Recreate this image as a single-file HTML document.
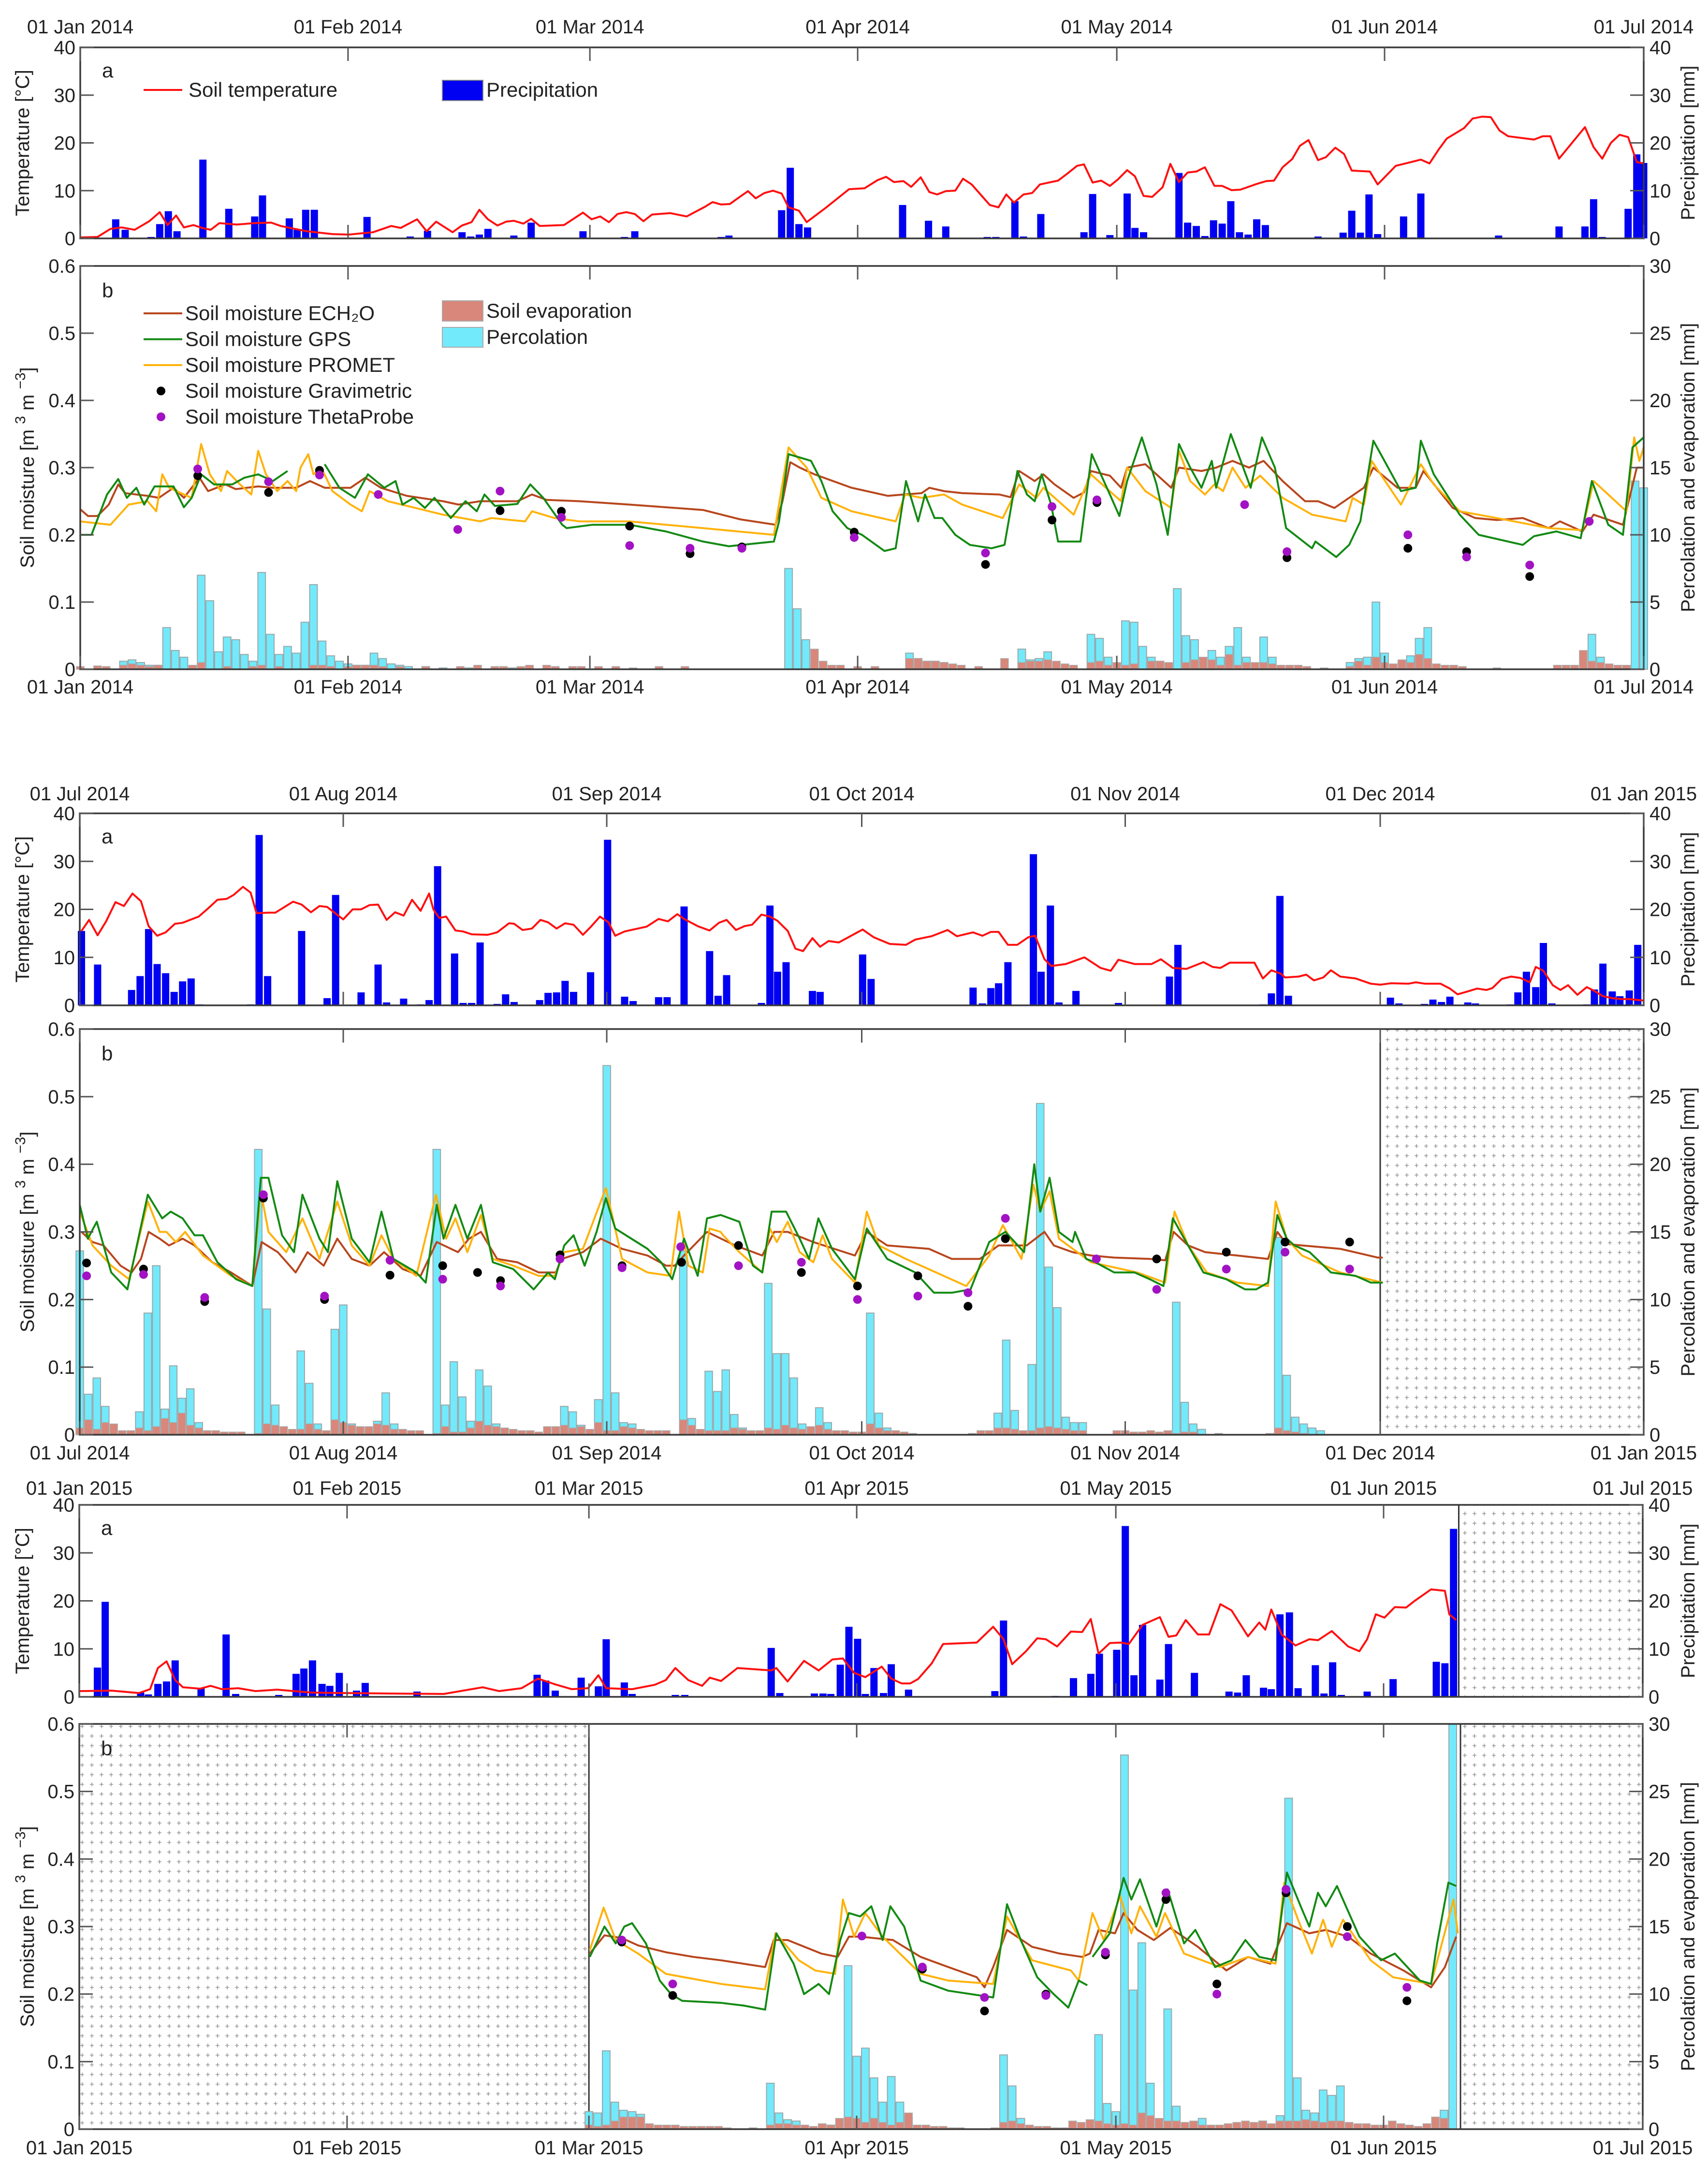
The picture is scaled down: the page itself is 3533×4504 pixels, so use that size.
<!DOCTYPE html>
<html><head><meta charset="utf-8"><title>Soil moisture, temperature and precipitation 2014–2015</title>
<style>
html,body{margin:0;padding:0;background:#fff;}
svg{display:block;font-family:"Liberation Sans",Arial,sans-serif;}
</style></head>
<body>
<svg id="chart" xmlns="http://www.w3.org/2000/svg" width="3533" height="4504" viewBox="0 0 3533 4504">
<defs>
<pattern id="hatch" width="20" height="20" patternUnits="userSpaceOnUse">
<path d="M6 10h8M10 6v8" stroke="#9a9a9a" stroke-width="1.6"/>
</pattern>
</defs>
<g id="root"></g>
</svg>
<script>
// ===== Panel 1: Jan–Jun 2014 =====
const p1Labels = ["01 Jan 2014","01 Feb 2014","01 Mar 2014","01 Apr 2014","01 May 2014","01 Jun 2014","01 Jul 2014"];
const p1Months = [0,31,59,90,120,151,181];
const p1Precip = [[4.1,4],[5.2,1.8],[8.2,0.3],[9.2,3],[10.2,5.7],[11.2,1.5],[14.2,16.5],[17.2,6.2],[20.2,4.6],[21.1,9],[24.2,4.2],[25.1,1.8],[26.1,6],[27.1,6],[33.2,4.5],[38.2,0.4],[40.2,1.6],[44.2,1.3],[45.2,0.4],[46.2,0.8],[47.2,2],[50.2,0.6],[52.2,3.3],[58.2,1.5],[63,0.3],[64.2,1.5],[74.2,0.3],[75.1,0.6],[81.2,5.9],[82.2,14.8],[83.2,3],[84.2,2.3],[95.2,7],[98.2,3.7],[100.2,2.5],[105,0.3],[106,0.3],[108.2,7.8],[109.2,0.4],[111.2,5.1],[116.2,1.3],[117.2,9.3],[119.2,0.7],[121.2,9.4],[122.1,2.2],[123.1,1.3],[127.2,13.7],[128.2,3.3],[129.2,2.6],[130.2,0.5],[131.2,3.8],[132.2,3.1],[133.2,7.8],[134.2,1.3],[135.2,0.8],[136.2,4],[137.2,2.8],[143.3,0.4],[146.2,1.2],[147.2,5.8],[148.2,1.2],[149.2,9.2],[150.2,0.9],[153.2,4.6],[154.2,0.2],[155.2,9.4],[164.2,0.6],[171.2,2.5],[174.2,2.5],[175.2,8.2],[176.2,0.3],[179.2,6.2],[180.2,17.6],[181,15.8]];
const p1Temp = [[0,0.2],[2,0.3],[3.5,2],[4.8,2.3],[6.3,1.8],[8,3.6],[9.2,5.5],[10.1,2.8],[11.1,4.8],[12,2.3],[13.1,2.8],[14.1,2.2],[15.1,1.8],[16.1,3.2],[18.1,2.9],[20.2,3.2],[22.1,3.3],[23.2,2.6],[26.2,1.5],[29.2,0.9],[31.1,0.8],[33.9,1.3],[36,2.6],[37.1,2.2],[39,4],[40.1,1.5],[41.2,3.5],[43.1,1.3],[44.2,2.7],[45.3,3.4],[46.2,6],[47.2,4],[48.3,2.7],[49.3,3.5],[50.2,3.7],[51.3,3.1],[52.2,4.1],[53.2,2.6],[56,2.8],[58.2,5.4],[59.2,4],[60.2,4.6],[61.2,3.4],[62.2,5.1],[63.2,5.5],[64.2,5.1],[65.2,3.6],[66.2,5],[68.3,5.3],[70.2,4.6],[72.3,6.6],[73.2,7.6],[74.2,7.1],[75.2,7.2],[76.2,8.5],[77.3,9.9],[78.2,8.4],[79.2,9.5],[80.2,10],[81.2,9.4],[82,6.5],[83.2,5.8],[84.1,3.4],[86.3,6.4],[89,10.3],[90.8,10.5],[92.3,12.2],[93.3,12.9],[94.2,11.8],[95.3,12],[96.2,10.8],[97.3,12.8],[98.3,9.7],[99.2,9.2],[100.2,9.9],[101.3,10],[102.2,12.5],[103.2,11.3],[105.3,7],[106.3,6.5],[107.2,9.2],[108.1,7.5],[109.2,9.2],[110.2,9.5],[111.1,11.3],[113.2,12.1],[114.3,13.6],[115.4,15.2],[116.2,15.5],[117.2,11.7],[118.2,12.1],[119.2,11],[120.1,12.3],[121.2,14.3],[122.1,13],[123.1,8.9],[124.1,8.7],[125.3,10.7],[126.2,15.6],[127.2,11.8],[128.2,13.8],[129.2,14],[130.2,14.9],[131.3,11],[132.2,11],[133.3,10.1],[134.3,10.2],[136.2,11.4],[137.3,12],[138.2,12.1],[139.2,14.9],[140.3,16.6],[141.2,19.4],[142.2,20.6],[143.3,16.4],[144.2,17],[145.3,19],[146.3,17.7],[147.2,14.2],[149.3,14],[150.2,11.3],[152.3,15.2],[155.2,16.5],[156.2,15.7],[157.3,18.7],[158.2,20.9],[160.2,23.1],[161.2,25.1],[162.3,25.5],[163.3,25.4],[164.3,22.6],[165.3,21.4],[168.3,20.7],[169.3,21.4],[170.2,21.4],[171.2,16.7],[174.2,23.3],[175.2,19.1],[176.2,16.7],[177.2,20],[178.2,21.7],[179.2,21.2],[180.2,16],[181,15.7]];
const p1Ech2o = [[0,0.238],[0.9,0.228],[2,0.228],[3.3,0.245],[4.4,0.275],[5.2,0.262],[7.8,0.258],[9.1,0.255],[10.8,0.27],[12,0.255],[13.8,0.285],[14.8,0.265],[16.8,0.275],[18,0.268],[20.6,0.272],[22.3,0.27],[25,0.27],[26.6,0.28],[28.3,0.27],[31.3,0.27],[33,0.285],[34.8,0.27],[37.8,0.258],[42,0.25],[43.8,0.245],[46.3,0.25],[50.6,0.25],[52.3,0.26],[54,0.252],[57.8,0.25],[63.6,0.245],[72.1,0.237],[76.4,0.223],[80.5,0.215],[81.3,0.25],[82.2,0.308],[83.3,0.3],[85,0.29],[89.3,0.27],[93.5,0.258],[95.3,0.26],[97.4,0.262],[98.3,0.27],[100,0.265],[102.1,0.262],[106.4,0.26],[107.7,0.256],[108.7,0.295],[110.5,0.28],[111.5,0.29],[112.8,0.275],[115,0.255],[116.2,0.263],[117,0.295],[119.2,0.288],[120.5,0.27],[121.2,0.3],[123.3,0.305],[126.3,0.27],[127.2,0.3],[129.8,0.295],[131.5,0.3],[133.4,0.31],[135.3,0.3],[137,0.31],[139.2,0.28],[141.8,0.25],[143.3,0.25],[145.2,0.24],[146.9,0.255],[148.6,0.27],[149.7,0.3],[152.5,0.27],[154.6,0.27],[155.5,0.295],[158.9,0.24],[161.5,0.225],[164,0.222],[167,0.225],[170,0.21],[171.3,0.22],[173.9,0.205],[175.2,0.23],[178.6,0.215],[180.2,0.3],[181,0.3]];
const p1Gps = [[0,0.2],[1.3,0.2],[3.1,0.26],[4.4,0.283],[5.4,0.255],[6.5,0.27],[7.4,0.245],[8.6,0.272],[10.8,0.272],[12,0.241],[12.9,0.255],[14,0.29],[15.5,0.275],[17.6,0.275],[19,0.285],[20.6,0.29],[22.3,0.28],[24,0.295],[24.1,null],[28.3,0.305],[30,0.27],[31.8,0.255],[33.3,0.29],[35.2,0.27],[36.5,0.28],[37.3,0.245],[38.6,0.255],[39.9,0.24],[41,0.255],[42.9,0.225],[44.6,0.25],[45.9,0.235],[46.8,0.26],[48,0.243],[50.6,0.246],[52.1,0.275],[53.6,0.255],[55.8,0.215],[56.3,0.21],[59.3,0.215],[63.6,0.215],[67.8,0.205],[72.1,0.19],[75.1,0.183],[80.3,0.19],[80.9,0.22],[82,0.32],[83.3,0.315],[84.6,0.31],[85.8,0.28],[87.1,0.235],[88.8,0.21],[90.5,0.2],[93.1,0.176],[94.4,0.18],[95.6,0.28],[97,0.22],[97.8,0.26],[98.9,0.225],[99.8,0.225],[101.3,0.2],[103,0.185],[105.5,0.18],[107,0.185],[108.5,0.295],[109.6,0.26],[110.5,0.25],[111.3,0.29],[112.4,0.245],[113.2,0.19],[115.8,0.19],[117.1,0.32],[119.2,0.26],[120.3,0.228],[121.2,0.28],[122.9,0.345],[124.6,0.275],[125.9,0.2],[127.2,0.335],[128.5,0.3],[129.8,0.27],[131,0.31],[131.5,0.27],[133.2,0.35],[135.5,0.27],[136.8,0.345],[138.3,0.3],[139.6,0.21],[142.6,0.18],[143,0.19],[145.4,0.167],[146.9,0.185],[148.2,0.22],[149.7,0.34],[151.2,0.305],[152.9,0.265],[154.6,0.27],[155.2,0.34],[156.7,0.29],[159.7,0.23],[161.9,0.2],[167,0.185],[168.3,0.198],[170.9,0.205],[173.7,0.195],[175,0.28],[176.9,0.215],[178.6,0.2],[179.7,0.33],[181,0.345]];
const p1Promet = [[0,0.22],[3.5,0.215],[5.6,0.245],[7.8,0.25],[8.8,0.235],[9.5,0.29],[10.3,0.27],[12,0.26],[12.9,0.255],[14,0.335],[15,0.29],[16.3,0.265],[17,0.295],[18.5,0.275],[19.8,0.26],[20.6,0.325],[21.5,0.29],[22.8,0.265],[24,0.28],[25,0.265],[25.5,0.3],[26.4,0.32],[27,0.29],[27.9,0.3],[29.2,0.265],[31.3,0.245],[32.6,0.235],[33.5,0.265],[35.6,0.25],[42,0.23],[44.2,0.225],[46.3,0.22],[47.6,0.225],[51.5,0.22],[52.3,0.235],[54.9,0.225],[57.8,0.22],[63.6,0.22],[72.1,0.21],[80.3,0.2],[82,0.33],[84.1,0.3],[85.8,0.255],[89.3,0.235],[94.4,0.22],[95.5,0.26],[97.4,0.255],[100,0.26],[102.1,0.245],[106.8,0.225],[108.7,0.275],[110.7,0.255],[111.5,0.27],[115,0.23],[117,0.29],[120.5,0.25],[121.2,0.3],[123.3,0.265],[126.3,0.24],[127.2,0.325],[128.5,0.28],[130.2,0.26],[131.3,0.275],[132.3,0.265],[133.4,0.3],[134.9,0.27],[136.6,0.288],[139.2,0.255],[142.6,0.23],[146.5,0.22],[147.3,0.255],[148.6,0.245],[149.5,0.31],[152.9,0.245],[155.2,0.305],[156.7,0.275],[159.7,0.235],[164,0.225],[170,0.21],[173.9,0.207],[175.2,0.28],[179,0.235],[179.9,0.345],[180.5,0.31],[181,0.33]];
const p1Grav = [[13.6,0.288],[21.8,0.263],[27.7,0.296],[48.6,0.236],[55.7,0.235],[63.6,0.213],[70.6,0.172],[76.6,0.182],[89.6,0.204],[104.8,0.156],[112.5,0.222],[117.7,0.248],[139.7,0.166],[153.7,0.18],[160.5,0.175],[167.8,0.138]];
const p1Theta = [[13.6,0.298],[21.8,0.279],[27.7,0.289],[34.5,0.26],[43.7,0.208],[48.6,0.265],[55.7,0.226],[63.6,0.184],[70.6,0.18],[76.6,0.18],[89.6,0.196],[104.8,0.173],[112.5,0.242],[117.7,0.252],[134.8,0.245],[139.7,0.175],[153.7,0.2],[160.5,0.167],[167.8,0.155],[174.7,0.22]];
const p1Perc = [[5,0.6],[6,0.7],[7,0.5],[8,0.3],[9,0.3],[10,3.1],[11,1.4],[12,0.9],[14,7],[15,5.1],[16,1.3],[17,2.4],[18,2.2],[19,1.1],[20,0.6],[21,7.2],[22,2.6],[23,1.1],[24,1.7],[25,1.2],[26,3.5],[27,6.3],[28,2.1],[29,1],[30,0.6],[31,0.4],[32,0.3],[33,0.3],[34,1.2],[35,0.8],[36,0.4],[37,0.3],[38,0.2],[40,0.2],[42,0.1],[45,0.1],[50,0.1],[52,0.2],[55,0.1],[82,7.5],[83,4.5],[84,2.2],[96,1.2],[97,0.8],[98,0.6],[99,0.6],[100,0.5],[109,1.5],[110,0.7],[111,0.8],[112,1.3],[117,2.6],[118,2.3],[119,0.9],[121,3.6],[122,3.5],[123,1.7],[124,0.9],[125,0.6],[127,6],[128,2.5],[129,2.2],[131,1.4],[132,0.9],[133,1.7],[134,3.1],[135,0.9],[137,2.4],[138,0.9],[147,0.5],[148,0.8],[149,0.9],[150,5],[151,1.2],[153,0.6],[154,1],[155,2.3],[156,3.1],[175,2.6],[176,0.9],[180,14],[181,13.5]];
const p1Evap = [[0,0.2],[2,0.25],[3,0.2],[5,0.3],[6,0.4],[7,0.3],[8,0.2],[9,0.3],[13,0.3],[14,0.5],[17,0.2],[20,0.2],[21,0.3],[23,0.2],[27,0.3],[28,0.3],[29,0.2],[31,0.2],[32,0.3],[33,0.3],[34,0.3],[35,0.2],[37,0.2],[40,0.2],[44,0.2],[46,0.3],[48,0.2],[49,0.2],[51,0.2],[52,0.3],[54,0.3],[55,0.2],[57,0.2],[58,0.2],[60,0.2],[62,0.2],[64,0.1],[67,0.2],[70,0.2],[85,1.5],[86,0.6],[87,0.3],[88,0.3],[90,0.2],[92,0.2],[96,0.8],[97,0.8],[98,0.6],[99,0.6],[100,0.5],[101,0.4],[102,0.3],[104,0.2],[107,0.8],[109,0.5],[110,0.6],[111,0.6],[112,0.7],[113,0.6],[114,0.4],[115,0.3],[117,0.5],[118,0.6],[119,0.3],[120,0.5],[121,0.3],[122,0.4],[124,0.6],[125,0.6],[126,0.5],[128,0.5],[129,0.7],[130,0.9],[131,0.7],[132,0.3],[133,1.1],[134,0.3],[135,0.5],[136,0.5],[137,0.5],[138,0.4],[139,0.3],[140,0.3],[141,0.3],[142,0.2],[144,0.1],[147,0.2],[148,0.6],[149,0.3],[150,0.9],[151,0.5],[152,0.4],[153,0.7],[154,0.5],[155,1.1],[156,0.8],[157,0.4],[158,0.3],[159,0.3],[160,0.2],[164,0.1],[171,0.3],[172,0.3],[173,0.3],[174,1.4],[175,0.6],[176,0.5],[177,0.4],[178,0.3],[179,0.3]];

// ===== Panel 2: Jul–Dec 2014 =====
const p2Labels = ["01 Jul 2014","01 Aug 2014","01 Sep 2014","01 Oct 2014","01 Nov 2014","01 Dec 2014","01 Jan 2015"];
const p2Months = [0,31,62,92,123,153,184];
const p2Precip = [[0.2,15.5],[2.1,8.5],[6.1,3.2],[7.1,6.1],[8.1,15.9],[9.1,8.6],[10.1,6.7],[11.1,2.8],[12.1,5],[13.1,5.6],[14.1,0.2],[20.1,0.2],[21.1,35.5],[22.1,6.1],[26.1,15.5],[29.1,1.5],[30.1,23],[33.1,2.7],[35.1,8.5],[36.1,0.6],[38.1,1.4],[40.1,0.2],[41.1,1.1],[42.1,29],[44.1,10.8],[45.1,0.5],[46.1,0.5],[47.1,13.1],[49.1,0.3],[50.1,2.3],[51.1,0.7],[54.1,1.1],[55.1,2.6],[56.1,2.7],[57.1,5.1],[58.1,2.8],[60.1,6.9],[62.1,34.5],[64.1,1.8],[65.1,0.9],[68.1,1.7],[69.1,1.7],[71.1,20.6],[74.1,11.3],[75.1,2],[76.1,6.3],[80.2,0.5],[81.2,20.8],[82.1,7],[83.1,9],[86.2,3],[87.1,2.8],[92.1,10.6],[93.1,5.5],[105.1,3.7],[106.2,0.4],[107.2,3.6],[108.1,4.6],[109.2,9],[112.2,31.5],[113.1,7],[114.2,20.8],[115.2,0.6],[117.2,3],[122.2,0.5],[128.2,6],[129.2,12.6],[139.2,0.2],[140.2,2.5],[141.2,22.8],[142.2,2],[154.2,1.6],[155.2,0.4],[158.2,0.3],[159.2,1.2],[160.2,0.7],[161.2,1.8],[163.3,0.6],[164.2,0.4],[168.3,0.2],[169.2,2.7],[170.2,7],[171.3,3.8],[172.2,13],[173.2,0.4],[177.3,0.2],[178.2,3.3],[179.2,8.7],[180.3,2.9],[181.2,1.9],[182.3,3.1],[183.3,12.6]];
const p2Temp = [[0.2,15.5],[1.1,17.8],[2.1,14.6],[3.1,17.5],[4.2,21.5],[5.2,20.7],[6.2,23.3],[7.2,21.7],[8.1,16.5],[9.1,14.5],[10.1,15.2],[11.2,17],[12.1,17.2],[14,18.5],[15.1,20.2],[16.2,22],[17.3,22.2],[18.1,23],[19.2,24.7],[20.1,23.5],[20.8,19.2],[22.2,19.3],[23,19.3],[25.1,21.6],[26.1,21],[27.2,19.4],[28.2,20.7],[29.1,20.5],[31,17.9],[32.1,20],[33.1,20],[34.1,20.9],[35.1,21],[36.1,17.8],[37.1,19.4],[38.1,18.7],[39.1,22],[40.1,19.7],[41.1,23.3],[41.6,20],[42.3,18.2],[43.1,18.5],[44.2,15.6],[45.1,15.4],[46.1,14.8],[48,14.7],[49.1,15.2],[50.5,17.1],[51.1,17],[52.1,15.7],[53.2,16],[54.2,17.8],[55.1,17.3],[56.1,16],[57.1,17.1],[58.1,16.8],[59.2,14.7],[60.1,16.3],[61.2,18.5],[62.2,17.3],[63,14.5],[64.1,15.4],[66.7,16.4],[68.1,18],[69.2,17.5],[70.3,19],[71.1,18],[72.7,16.5],[74.1,15.6],[75.2,17.2],[76.1,17.8],[77.2,15.7],[78.2,16.5],[79.1,16.8],[80.2,18.9],[81.2,18.5],[82.1,17.6],[83.3,15.5],[84.2,11.8],[85.1,11.3],[86.2,14],[87.1,12.2],[88.1,13.4],[89.3,13.1],[92.1,15.8],[93.4,14.2],[95.3,12.8],[97.2,12.6],[98.3,13.7],[100.2,14.4],[102.1,15.7],[103.2,14.4],[105.1,15.2],[106.2,14.5],[107.2,15.3],[108.1,15.3],[109.2,12.6],[110.3,12.6],[111.6,14.2],[112.4,14.5],[113.5,9.6],[114.3,8.2],[116,8.6],[118.2,10],[120.1,7.8],[121.3,7.2],[122.2,9.5],[124.1,8.6],[126.1,8.6],[127.2,9.6],[128.6,7.8],[130.2,7.6],[132.2,9],[133.3,8],[134.2,7.8],[135.3,8.9],[138.2,8.9],[139.2,5.6],[140.2,7.3],[141.3,6.6],[141.8,5.8],[143.4,6],[144.3,6.4],[145.2,5.2],[146.3,5.8],[147.2,7.3],[148.3,6],[150.1,5.6],[151.9,4.5],[153,4.3],[154.3,4.6],[156.3,4.5],[157.2,4.8],[158.3,4.5],[160.1,4.5],[161.2,3.5],[162.1,2.3],[163.3,2.9],[164.4,3.5],[165.5,3.2],[166.2,3.6],[167.3,5.5],[168.4,6],[169.5,5.7],[170.6,4.8],[171.3,8],[172.2,7.2],[173.3,4.2],[174.2,3.2],[175.1,4.2],[176.2,2.2],[177.3,3.8],[178.2,3],[179.2,1.9],[180.3,1.5],[181.4,1.3],[182.3,1.3],[184,1]];
const p2Ech2o = [[0.2,0.3],[1.5,0.285],[2.8,0.28],[4.8,0.25],[6.1,0.24],[7.2,0.26],[8.1,0.3],[9.4,0.29],[10.5,0.28],[12.1,0.29],[13.5,0.28],[15.6,0.255],[17.8,0.24],[20.3,0.22],[21.4,0.285],[23.3,0.27],[25.4,0.24],[26.8,0.27],[28.7,0.25],[30.3,0.29],[32,0.26],[34.1,0.25],[35.8,0.27],[38,0.245],[40.1,0.235],[42,0.285],[44.5,0.27],[45.8,0.29],[47.2,0.3],[49.1,0.26],[51.5,0.255],[54,0.24],[56,0.24],[56.7,0.26],[59.2,0.27],[61.3,0.29],[63.8,0.275],[66.8,0.265],[69,0.25],[70,0.25],[71.1,0.265],[73.8,0.3],[77.1,0.28],[80.3,0.265],[81.7,0.3],[83.3,0.3],[86.3,0.285],[91.2,0.265],[92.6,0.3],[95,0.28],[99.9,0.275],[102.6,0.26],[105.9,0.26],[108.1,0.28],[111.4,0.28],[113.5,0.3],[114.6,0.28],[116.8,0.27],[119,0.265],[121.7,0.262],[125.9,0.26],[127.7,0.258],[128.7,0.3],[130.4,0.28],[132.4,0.27],[136.2,0.265],[139.8,0.26],[140.9,0.3],[142,0.282],[143.8,0.28],[148.3,0.275],[152.7,0.262],[153.3,0.262]];
const p2Gps = [[0,0.34],[0.95,0.29],[2,0.315],[3.7,0.24],[5.6,0.215],[8,0.355],[9.7,0.32],[10.7,0.33],[12.1,0.32],[13.5,0.295],[14.5,0.295],[16.2,0.255],[18.4,0.23],[20.3,0.22],[21.3,0.38],[22.2,0.38],[23.8,0.295],[25.2,0.27],[26.2,0.355],[28.2,0.29],[29.2,0.27],[30.3,0.375],[32,0.29],[34.1,0.255],[35.5,0.33],[36.9,0.26],[39.6,0.24],[40.7,0.225],[42,0.34],[42.8,0.29],[44.2,0.34],[45.6,0.29],[47.2,0.34],[48.6,0.255],[51,0.245],[53.4,0.215],[55.1,0.24],[55.9,0.23],[57,0.28],[58.1,0.295],[59.4,0.25],[60.8,0.3],[61.9,0.35],[63,0.305],[64.9,0.29],[66.8,0.275],[68.4,0.255],[69.7,0.23],[71.1,0.29],[72.7,0.235],[73.8,0.32],[75.4,0.325],[77.6,0.315],[79.2,0.25],[80.3,0.24],[81.4,0.33],[83.1,0.33],[84.7,0.29],[85.8,0.26],[86.9,0.32],[88.5,0.275],[91.2,0.23],[92.6,0.305],[95,0.26],[98.3,0.24],[100.5,0.21],[102.6,0.21],[104.8,0.215],[107,0.285],[108.9,0.3],[111.1,0.27],[112.3,0.4],[113,0.33],[114.1,0.38],[115.2,0.3],[116.8,0.285],[117.1,0.3],[118.4,0.26],[119.5,0.255],[121.7,0.24],[124.1,0.24],[125.9,0.23],[127.5,0.22],[128.6,0.32],[130.4,0.28],[132.2,0.24],[134.9,0.23],[137.1,0.215],[138.4,0.215],[139.8,0.225],[140.9,0.325],[142,0.29],[142.9,0.28],[144.7,0.27],[147.2,0.24],[150.1,0.235],[151.9,0.225],[153.3,0.225]];
const p2Promet = [[0,0.33],[1.5,0.28],[3.7,0.25],[5.8,0.23],[8,0.345],[9.4,0.3],[10.2,0.3],[11.3,0.285],[12.4,0.3],[14.5,0.265],[17.8,0.235],[20.3,0.22],[21.3,0.36],[22.2,0.3],[24.3,0.27],[26.2,0.32],[28.2,0.26],[30.3,0.345],[32,0.28],[34.1,0.25],[35.5,0.295],[36.9,0.26],[39.6,0.235],[41.9,0.355],[43.1,0.29],[44.2,0.32],[45.6,0.27],[47.2,0.325],[48.6,0.26],[51,0.25],[54,0.235],[55.9,0.235],[57,0.27],[59.2,0.275],[61.9,0.365],[63.8,0.26],[66.8,0.24],[69.5,0.235],[70.5,0.33],[71.6,0.25],[73.3,0.24],[74.1,0.305],[75.4,0.3],[75.7,0.295],[77.6,0.27],[80.3,0.24],[81.2,0.305],[82,0.285],[83.3,0.315],[84.7,0.27],[86.3,0.255],[87.4,0.295],[88.5,0.26],[91.2,0.225],[92.6,0.33],[94,0.28],[97.2,0.26],[104.3,0.22],[107,0.265],[108.6,0.31],[110.8,0.26],[112.2,0.37],[113,0.33],[114.1,0.36],[115.2,0.29],[119,0.255],[124.4,0.24],[127.7,0.225],[128.8,0.33],[130.4,0.28],[132.6,0.24],[136.2,0.225],[139.8,0.22],[140.7,0.345],[142,0.29],[143.8,0.265],[148.3,0.24],[153.3,0.225]];
const p2Grav = [[0.8,0.254],[7.5,0.245],[14.7,0.197],[21.6,0.35],[28.8,0.2],[36.5,0.236],[42.7,0.25],[46.8,0.24],[49.5,0.228],[56.5,0.266],[63.8,0.25],[70.8,0.255],[77.5,0.28],[84.9,0.24],[91.5,0.22],[98.6,0.235],[104.5,0.19],[108.9,0.29],[126.7,0.26],[134.9,0.27],[141.8,0.285],[149.4,0.285]];
const p2Theta = [[0.8,0.235],[7.5,0.237],[14.7,0.203],[21.6,0.355],[28.8,0.205],[36.5,0.258],[42.7,0.23],[49.5,0.22],[56.5,0.26],[63.8,0.247],[70.7,0.278],[77.5,0.25],[84.9,0.255],[91.5,0.2],[98.6,0.205],[104.5,0.21],[108.9,0.32],[119.6,0.26],[126.7,0.215],[134.9,0.245],[141.8,0.27],[149.4,0.245]];
const p2Perc = [[0,13.6],[1,3],[2,4.2],[3,2.1],[7,1.7],[8,9],[9,12.5],[10,1.9],[11,5.1],[12,2.7],[13,3.4],[14,0.9],[21,21.1],[22,9.3],[23,2.2],[26,6.2],[27,3.8],[28,0.8],[30,7.8],[31,9.6],[32,0.8],[34,0.3],[35,1],[36,3.1],[37,0.8],[42,21.1],[43,2.2],[44,5.4],[45,2.8],[46,1],[47,4.8],[48,3.6],[49,0.8],[57,2.1],[58,1.7],[59,0.7],[61,2.6],[62,27.3],[63,3.1],[64,0.9],[65,0.8],[71,13.6],[72,1.2],[74,4.7],[75,3.2],[76,4.8],[77,1.5],[78,0.5],[81,11.2],[82,6],[83,6],[84,4.2],[85,0.8],[87,2],[88,0.9],[93,9],[94,1.6],[95,0.5],[108,1.6],[109,7],[110,1.8],[112,5.2],[113,24.5],[114,12.4],[115,9.4],[116,1.3],[117,0.9],[118,0.9],[129,9.8],[130,2.4],[131,0.8],[132,0.4],[141,14.6],[142,4.4],[143,1.3],[144,0.8],[145,0.5],[146,0.3]];
const p2Evap = [[0,0.5],[1,1.1],[2,0.4],[3,0.9],[4,0.8],[5,0.3],[6,0.3],[7,0.5],[8,0.3],[9,0.6],[10,1.2],[11,0.9],[12,1.6],[13,0.7],[14,0.5],[15,0.3],[16,0.3],[17,0.2],[18,0.2],[19,0.2],[21,0.1],[22,0.8],[23,0.7],[24,0.6],[25,0.4],[26,0.4],[27,0.8],[28,0.4],[29,0.3],[30,1.1],[31,0.9],[32,0.7],[33,0.6],[34,0.6],[35,0.8],[36,0.7],[37,0.4],[38,0.4],[39,0.3],[40,0.3],[42,0.1],[43,0.6],[44,0.2],[45,0.2],[46,0.5],[47,1],[48,0.7],[49,0.6],[50,0.5],[51,0.4],[52,0.3],[53,0.3],[54,0.2],[55,0.6],[56,0.6],[57,0.7],[58,0.5],[59,0.6],[60,0.4],[61,0.9],[62,0.3],[63,0.3],[64,0.6],[65,0.5],[66,0.4],[67,0.3],[68,0.3],[69,0.3],[71,1.1],[72,0.7],[73,0.4],[74,0.3],[75,0.3],[76,0.3],[77,0.5],[78,0.4],[79,0.3],[80,0.3],[81,0.5],[82,0.4],[83,0.7],[84,0.5],[85,0.4],[86,0.6],[87,0.7],[88,0.4],[89,0.3],[90,0.3],[91,0.2],[92,0.2],[93,0.8],[94,0.5],[95,0.3],[96,0.3],[97,0.2],[98,0.1],[105,0.1],[106,0.3],[107,0.3],[108,0.5],[109,0.5],[110,0.4],[111,0.3],[112,0.3],[113,0.5],[114,0.6],[115,0.5],[116,0.4],[117,0.3],[118,0.3],[122,0.3],[123,0.3],[124,0.2],[125,0.2],[126,0.3],[127,0.2],[128,0.3],[129,0.1],[130,0.2],[131,0.2],[134,0.1],[140,0.1],[141,0.5],[142,0.3],[143,0.2],[144,0.1]];

// ===== Panel 3: Jan–Jun 2015 =====
const p3Labels = ["01 Jan 2015","01 Feb 2015","01 Mar 2015","01 Apr 2015","01 May 2015","01 Jun 2015","01 Jul 2015"];
const p3Months = [0,31,59,90,120,151,181];
const p3Precip = [[2.1,6.1],[3,19.8],[7.1,0.9],[8,0.5],[9.1,2.7],[10.1,3.2],[11.1,7.6],[14.1,1.9],[17,13],[18.1,0.6],[23.1,0.4],[25.1,4.8],[26,5.9],[27,7.6],[28.1,2.7],[29,2.3],[30.1,5],[32.1,1.3],[33.1,2.9],[39.1,1.1],[53,4.6],[54,3.4],[55.1,1.3],[58.1,4],[60.1,2.2],[61,12],[63.1,3],[64,0.6],[69,0.4],[70.1,0.4],[80.1,10.2],[81.1,0.8],[85.1,0.7],[86.1,0.7],[87,0.6],[88.1,6.7],[89.1,14.6],[90.1,12.1],[91,0.6],[92,6],[93.1,0.8],[94,6.8],[96,1.5],[106,1.2],[107,15.9],[113,0.2],[115.1,3.9],[117.1,4.8],[118.1,9],[120.1,9.8],[121.1,35.6],[122.1,4.5],[123.1,15],[125.1,3.6],[126.1,11],[129.1,5],[133.1,1.1],[134.1,0.9],[135.1,4.5],[137.1,1.9],[138,1.6],[139,17.2],[140.1,17.6],[141.1,1.8],[143.1,6.6],[144.1,0.7],[145.1,7.2],[146.1,0.4],[149.1,1.1],[152.1,3.7],[157.1,7.3],[158.1,7],[159.1,35]];
const p3Temp = [[0,1.2],[3.7,1.3],[6.9,0.8],[8.2,1.6],[9.1,6],[10.1,7.4],[11.1,3.5],[12,2],[14,1.7],[15.2,2.3],[16.5,1.6],[18.4,1.8],[20.4,1.2],[22.9,1.5],[26.8,0.9],[30.6,0.8],[35.8,0.7],[42.2,0.6],[46.7,2],[48.6,1.2],[51.2,1.8],[53.1,3.8],[55.1,2.6],[57,1.6],[58.9,1.8],[60.1,4.5],[61,1.8],[64,1.6],[66.6,2.5],[67.9,3.5],[69,6],[70.5,3.5],[72.1,2.3],[73,4],[74.3,3.3],[76.2,6],[80.1,5.5],[80.7,6],[82,3.2],[83.9,7.5],[85.6,5.5],[87.2,7.8],[88.4,8],[89.7,5],[91,4.1],[92.9,6.3],[94,3.8],[95.2,2.8],[96.2,2.8],[97.1,3.7],[98.7,7],[100,11],[103.9,11.3],[105.8,14.6],[107,12],[108,6.8],[109.6,9.5],[110.9,12.2],[111.9,12],[113.2,10.5],[114.8,13.6],[116.1,13.5],[117.1,16.2],[118,9],[119.3,11.2],[120.6,11.3],[121.5,11],[123.1,15],[125.1,16.6],[126.1,12.5],[127,12.8],[128.1,16],[129.5,13],[130.8,13],[132.1,19.3],[133.4,18],[135.3,12.6],[136.6,15.5],[137.3,14],[138,18.2],[139.2,13],[140.8,10.7],[142.4,12],[143.4,11.8],[145,13.7],[146.9,10.5],[148.2,9.5],[149.1,12],[150.1,17.2],[151.1,16.5],[152.3,18.7],[153.6,18.6],[154.6,20],[156.5,22.4],[158.1,22.1],[158.6,17.2],[159.4,16]];
const p3Ech2o = [[59.1,0.26],[60.8,0.287],[62.8,0.283],[64.7,0.272],[67.9,0.262],[71.1,0.255],[74.3,0.25],[79.4,0.24],[80.4,0.28],[82,0.28],[85.9,0.26],[87.8,0.255],[89.1,0.285],[90.4,0.285],[94.2,0.28],[97.4,0.255],[100.6,0.24],[103.9,0.225],[104.8,0.21],[105.8,0.24],[107.4,0.295],[110.3,0.27],[113.5,0.26],[116.1,0.255],[117,0.26],[118,0.295],[119.9,0.29],[120.9,0.32],[122.5,0.295],[124.4,0.28],[126.3,0.298],[129.5,0.27],[132.8,0.235],[135.3,0.255],[137.9,0.245],[139.8,0.305],[142.4,0.29],[144.3,0.295],[146.9,0.285],[149.5,0.26],[153.3,0.235],[156.5,0.21],[158.1,0.24],[159.4,0.285]];
const p3Gps = [[59.1,0.255],[60.8,0.3],[62.1,0.275],[63.1,0.3],[64,0.305],[65.6,0.275],[67.2,0.22],[68.5,0.2],[69.8,0.19],[74.3,0.187],[76.9,0.183],[79.4,0.177],[80.7,0.29],[82.7,0.245],[83.9,0.2],[85.6,0.215],[86.8,0.2],[88.1,0.28],[89.1,0.32],[90.4,0.315],[91.7,0.33],[93,0.28],[93.9,0.33],[95.5,0.3],[97.4,0.22],[100.6,0.205],[105.8,0.195],[107.4,0.333],[109,0.28],[110.9,0.225],[112.8,0.2],[114.5,0.18],[115.7,0.22],[116.7,0.213],[116.8,null],[117.3,0.255],[119.3,0.29],[120.9,0.372],[121.8,0.34],[122.8,0.37],[124.7,0.3],[126,0.355],[127.9,0.275],[129.2,0.295],[131.5,0.24],[133.4,0.25],[135,0.28],[136.6,0.255],[138.5,0.25],[139.8,0.38],[141.4,0.33],[142.4,0.3],[143.4,0.35],[144.3,0.33],[145.6,0.36],[148.2,0.285],[150.7,0.25],[152.3,0.26],[155.2,0.22],[156.5,0.215],[157.2,0.275],[158.5,0.365],[159.4,0.36]];
const p3Promet = [[59.1,0.265],[60.7,0.328],[62.1,0.28],[64.7,0.26],[67.9,0.23],[74.3,0.215],[79.4,0.207],[80.6,0.29],[83.3,0.25],[85.2,0.235],[87.5,0.23],[88.4,0.34],[89.7,0.285],[91,0.32],[93,0.285],[97.4,0.23],[100.6,0.22],[105.8,0.215],[107.4,0.315],[110.3,0.25],[114.8,0.235],[115.7,0.22],[117.3,0.32],[118.6,0.28],[120.5,0.345],[121.8,0.29],[122.8,0.33],[124.7,0.285],[125.7,0.32],[127.9,0.26],[132.1,0.24],[135.3,0.255],[138.5,0.245],[139.5,0.365],[141.1,0.31],[142.7,0.26],[144,0.31],[145,0.27],[146.3,0.31],[149.5,0.25],[152.1,0.225],[156.5,0.215],[159.1,0.34],[159.6,0.29]];
const p3Grav = [[62.8,0.277],[68.7,0.198],[97.6,0.237],[104.8,0.175],[111.9,0.2],[118.8,0.258],[125.8,0.34],[131.7,0.215],[139.7,0.35],[146.8,0.3],[153.7,0.19]];
const p3Theta = [[62.8,0.28],[68.7,0.215],[90.6,0.286],[97.6,0.24],[104.8,0.195],[111.9,0.198],[118.8,0.262],[125.8,0.35],[131.7,0.2],[139.7,0.355],[146.8,0.285],[153.7,0.21]];
const p3Perc = [[59,1.3],[60,1.2],[61,5.8],[62,2],[63,1.4],[64,1.3],[65,1.1],[80,3.4],[81,1.2],[82,0.7],[83,0.6],[87,0.3],[89,12.1],[90,5.4],[91,6],[92,3.8],[93,2],[94,3.9],[95,2],[96,0.9],[107,5.5],[108,3.2],[109,0.8],[118,7],[119,1.9],[120,1.3],[121,27.7],[122,10.3],[123,13.8],[124,3.4],[126,8.9],[127,1.7],[130,0.8],[137,0.6],[139,1],[140,24.5],[141,3.8],[142,1.4],[143,1.2],[144,2.9],[145,2.5],[146,3.2],[158,1.4],[159,30]];
const p3Evap = [[59,0.3],[60,0.2],[61,0.3],[62,0.6],[63,0.9],[64,0.9],[65,0.9],[66,0.4],[67,0.3],[68,0.3],[69,0.3],[70,0.2],[71,0.2],[72,0.2],[73,0.2],[74,0.2],[75,0.1],[78,0.1],[80,0.3],[81,0.4],[82,0.4],[83,0.3],[84,0.3],[85,0.2],[86,0.4],[87,0.3],[88,0.8],[89,0.9],[90,0.8],[91,0.5],[92,0.8],[93,0.5],[94,0.3],[95,0.5],[96,1.2],[97,0.3],[98,0.3],[99,0.2],[100,0.2],[101,0.1],[102,0.1],[106,0.1],[107,0.5],[108,0.6],[109,0.4],[110,0.3],[111,0.2],[112,0.2],[113,0.1],[114,0.1],[115,0.6],[116,0.5],[117,0.7],[118,0.6],[119,0.4],[120,0.3],[121,0.4],[122,0.3],[123,1.2],[124,1],[125,0.8],[126,0.6],[127,0.6],[128,0.5],[129,0.6],[130,0.3],[131,0.3],[132,0.3],[133,0.4],[134,0.5],[135,0.6],[136,0.5],[137,0.6],[138,0.4],[139,0.6],[140,0.6],[141,0.6],[142,0.7],[143,0.6],[144,0.5],[145,0.6],[146,0.6],[147,0.5],[148,0.4],[149,0.4],[150,0.3],[151,0.3],[152,0.6],[153,0.4],[154,0.3],[155,0.2],[156,0.4],[157,0.9],[158,0.8]];

const tempTicks = [0,10,20,30,40];
const moistTicks = [0,0.1,0.2,0.3,0.4,0.5,0.6];
const mmTicks = [0,5,10,15,20,25,30];

const panels = [
 {id:'p1', x0:166, x1:3400, nd:181, lblTop:55, aTop:98, aBot:493, bTop:550, bBot:1384, lblBot:1420,
  labels:p1Labels, months:p1Months, precip:p1Precip, temp:p1Temp, ech:p1Ech2o, gps:p1Gps, prom:p1Promet, grav:p1Grav, theta:p1Theta, perc:p1Perc, evap:p1Evap, hatchA:[], hatchB:[], legend:true},
 {id:'p2', x0:165, x1:3400, nd:184, lblTop:1641, aTop:1682, aBot:2079, bTop:2128, bBot:2967, lblBot:3004,
  labels:p2Labels, months:p2Months, precip:p2Precip, temp:p2Temp, ech:p2Ech2o, gps:p2Gps, prom:p2Promet, grav:p2Grav, theta:p2Theta, perc:p2Perc, evap:p2Evap, hatchA:[], hatchB:[[153,184]], legend:false},
 {id:'p3', x0:164, x1:3398, nd:181, lblTop:3077, aTop:3112, aBot:3509, bTop:3565, bBot:4403, lblBot:4441,
  labels:p3Labels, months:p3Months, precip:p3Precip, temp:p3Temp, ech:p3Ech2o, gps:p3Gps, prom:p3Promet, grav:p3Grav, theta:p3Theta, perc:p3Perc, evap:p3Evap, hatchA:[[159.7,181]], hatchB:[[0,59],[159.9,181]], legend:false}
];

const NS='http://www.w3.org/2000/svg';
const root=document.getElementById('root');
function mk(tag,attrs,parent,text){const e=document.createElementNS(NS,tag);for(const k in attrs)e.setAttribute(k,attrs[k]);if(text!==undefined)e.textContent=text;(parent||root).appendChild(e);return e;}
function xs(p,d){return p.x0+d*(p.x1-p.x0)/p.nd;}
function yA(p,v){return p.aBot-v/40*(p.aBot-p.aTop);}
function yB(p,v){return p.bBot-v/0.6*(p.bBot-p.bTop);}
function yMM(p,mm){return p.bBot-mm/30*(p.bBot-p.bTop);}
function pathOf(p,arr,yf){let d='',pen=false;for(const [dd,v] of arr){if(v===null){pen=false;continue;}d+=(pen?'L':'M')+xs(p,dd).toFixed(1)+' '+yf(p,v).toFixed(1);pen=true;}return d;}
const F=40;

panels.forEach(p=>{
  const g=mk('g',{});
  
  
  const dpx=(p.x1-p.x0)/p.nd;
  // hatch regions
  p.hatchA.forEach(h=>{const r=mk('rect',{x:xs(p,h[0]),y:p.aTop,width:xs(p,h[1])-xs(p,h[0]),height:p.aBot-p.aTop,fill:'url(#hatch)',stroke:'#333','stroke-width':3},g);
    
    });
  p.hatchB.forEach(h=>{const r=mk('rect',{x:xs(p,h[0]),y:p.bTop,width:xs(p,h[1])-xs(p,h[0]),height:p.bBot-p.bTop,fill:'url(#hatch)',stroke:'#333','stroke-width':3},g);
    
    });
  // precipitation bars
  p.precip.forEach(([d,v])=>{const r=mk('rect',{x:(xs(p,d)-7.5).toFixed(1),y:yA(p,v).toFixed(1),width:15,height:(p.aBot-yA(p,v)).toFixed(1),fill:'#0000f2'},g);
    
    });
  // temperature line
  const tl=mk('path',{d:pathOf(p,p.temp,yA),fill:'none',stroke:'#ff1010','stroke-width':4,'stroke-linejoin':'round'},g);
  
  
  // percolation & evaporation bars
  p.perc.forEach(([d,v])=>{const top=Math.max(yMM(p,v),p.bTop);const r=mk('rect',{x:(xs(p,d)-dpx/2+1).toFixed(1),y:top.toFixed(1),width:(dpx-2).toFixed(1),height:(p.bBot-top).toFixed(1),fill:'#72eafb',stroke:'#9aa8ab','stroke-width':2},g);
    
    });
  p.evap.forEach(([d,v])=>{const r=mk('rect',{x:(xs(p,d)-dpx/2+1).toFixed(1),y:yMM(p,v).toFixed(1),width:(dpx-2).toFixed(1),height:(p.bBot-yMM(p,v)).toFixed(1),fill:'#d9877a',stroke:'#a9a9a9','stroke-width':1.5},g);
    
    });
  // moisture lines
  const l1=mk('path',{d:pathOf(p,p.ech,yB),fill:'none',stroke:'#b8461c','stroke-width':4,'stroke-linejoin':'round'},g);
  
  
  const l3=mk('path',{d:pathOf(p,p.prom,yB),fill:'none',stroke:'#ffb20a','stroke-width':4,'stroke-linejoin':'round'},g);
  
  
  const l2=mk('path',{d:pathOf(p,p.gps,yB),fill:'none',stroke:'#138a13','stroke-width':4,'stroke-linejoin':'round'},g);
  
  
  p.grav.forEach(([d,v])=>{const c=mk('ellipse',{cx:xs(p,d).toFixed(1),cy:yB(p,v).toFixed(1),rx:9,ry:9,fill:'#000'},g);
    
    });
  p.theta.forEach(([d,v])=>{const c=mk('ellipse',{cx:xs(p,d).toFixed(1),cy:yB(p,v).toFixed(1),rx:9,ry:9,fill:'#a212c4'},g);
    
    });
  // axes boxes
  [[p.aTop,p.aBot],[p.bTop,p.bBot]].forEach(([t,b])=>{const r=mk('rect',{x:p.x0,y:t,width:p.x1-p.x0,height:b-t,fill:'none',stroke:'#3a3a3a','stroke-width':3.5},g);
    
    });
  // month ticks & labels
  p.months.forEach((m,i)=>{const x=xs(p,m);
    [[p.aTop,1],[p.aBot,-1],[p.bTop,1],[p.bBot,-1]].forEach(([y,s])=>mk('line',{x1:x,y1:y,x2:x,y2:y+s*28,stroke:'#555','stroke-width':3},g));
    const t1=mk('text',{x:x,y:p.lblTop+14,'font-size':F,'text-anchor':'middle',fill:'#222'},g,p.labels[i]);
    
    
    const t2=mk('text',{x:x,y:p.lblBot+14,'font-size':F,'text-anchor':'middle',fill:'#222'},g,p.labels[i]);
    
    });
  // y ticks
  tempTicks.forEach(v=>{const y=yA(p,v);
    mk('line',{x1:p.x0,y1:y,x2:p.x0+28,y2:y,stroke:'#555','stroke-width':3},g);
    mk('line',{x1:p.x1,y1:y,x2:p.x1-28,y2:y,stroke:'#555','stroke-width':3},g);
    const a=mk('text',{x:p.x0-10,y:y+14,'font-size':F,'text-anchor':'end',fill:'#222'},g,String(v));
    
    
    const b=mk('text',{x:p.x1+12,y:y+14,'font-size':F,fill:'#222'},g,String(v));
    
    });
  moistTicks.forEach(v=>{const y=yB(p,v);
    mk('line',{x1:p.x0,y1:y,x2:p.x0+28,y2:y,stroke:'#555','stroke-width':3},g);
    const a=mk('text',{x:p.x0-10,y:y+14,'font-size':F,'text-anchor':'end',fill:'#222'},g,v===0?'0':String(v));
    
    });
  mmTicks.forEach(v=>{const y=yMM(p,v);
    mk('line',{x1:p.x1,y1:y,x2:p.x1-28,y2:y,stroke:'#555','stroke-width':3},g);
    const b=mk('text',{x:p.x1+12,y:y+14,'font-size':F,fill:'#222'},g,String(v));
    
    });
  // panel letters
  const la=mk('text',{x:p.x0+45,y:p.aTop+62,'font-size':42,fill:'#222'},g,'a');
  
  
  const lb=mk('text',{x:p.x0+45,y:p.bTop+65,'font-size':42,fill:'#222'},g,'b');
  
  
  // axis titles
  const ca=(p.aTop+p.aBot)/2, cb=(p.bTop+p.bBot)/2;
  const t1=mk('text',{x:0,y:0,'font-size':F,'text-anchor':'middle',fill:'#222',transform:`translate(60 ${ca}) rotate(-90)`},g,'Temperature [°C]');
  
  
  const t2=mk('text',{x:0,y:0,'font-size':F,'text-anchor':'middle',fill:'#222',transform:`translate(3505 ${ca}) rotate(-90)`},g,'Precipitation [mm]');
  
  
  const t3=mk('text',{x:0,y:0,'font-size':F,'text-anchor':'middle',fill:'#222',transform:`translate(70 ${cb}) rotate(-90)`},g);
  
  
  mk('tspan',{},t3,'Soil moisture [m ');
  mk('tspan',{dy:-18,'font-size':30},t3,'3');
  mk('tspan',{dy:18},t3,' m ');
  mk('tspan',{dy:-18,'font-size':30},t3,'−3');
  mk('tspan',{dy:18},t3,']');
  const t4=mk('text',{x:0,y:0,'font-size':F,'text-anchor':'middle',fill:'#222',transform:`translate(3505 ${cb}) rotate(-90)`},g,'Percolation and evaporation [mm]');
  
  

  if(p.legend){
    const lg=mk('g',{},g);
    
    
    mk('line',{x1:297,y1:186,x2:377,y2:186,stroke:'#ff1010','stroke-width':4},lg);
    mk('text',{x:390,y:200,'font-size':42,fill:'#222'},lg,'Soil temperature');
    mk('rect',{x:915,y:166,width:84,height:42,fill:'#0000f2',stroke:'#888','stroke-width':2},lg);
    mk('text',{x:1006,y:200,'font-size':42,fill:'#222'},lg,'Precipitation');
    const items=[['#b8461c','Soil moisture ECH₂O','line'],['#138a13','Soil moisture GPS','line'],['#ffb20a','Soil moisture PROMET','line'],['#000','Soil moisture Gravimetric','dot'],['#a212c4','Soil moisture ThetaProbe','dot']];
    items.forEach((it,i)=>{const y=648+i*53.5;
      if(it[2]==='line')mk('line',{x1:297,y1:y,x2:377,y2:y,stroke:it[0],'stroke-width':4},lg);
      else mk('ellipse',{cx:333,cy:y,rx:9,ry:9,fill:it[0]},lg);
      mk('text',{x:383,y:y+14,'font-size':42,fill:'#222'},lg,it[1]);});
    mk('rect',{x:915,y:622,width:84,height:42,fill:'#d9877a',stroke:'#aaa','stroke-width':2},lg);
    mk('text',{x:1006,y:657,'font-size':42,fill:'#222'},lg,'Soil evaporation');
    mk('rect',{x:915,y:677,width:84,height:41,fill:'#72eafb',stroke:'#aaa','stroke-width':2},lg);
    mk('text',{x:1006,y:711,'font-size':42,fill:'#222'},lg,'Percolation');
  }
});
</script>
</body></html>
